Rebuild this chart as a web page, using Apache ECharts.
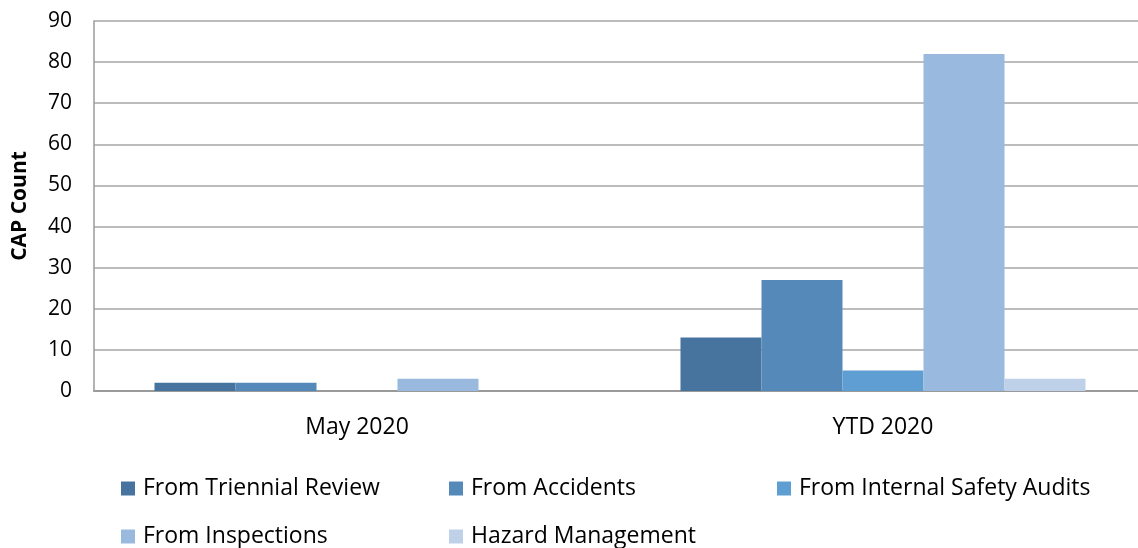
<!DOCTYPE html>
<html>
<head>
<meta charset="utf-8">
<script src="https://cdn.jsdelivr.net/npm/echarts@6/dist/echarts.min.js"></script>
<style>
  html, body { margin: 0; padding: 0; background: #fff; }
  #chart { width: 1138px; height: 548px; }
</style>
</head>
<body>
<div id="chart"></div>
<script>
// 数据
var categories = ['May 2020', 'YTD 2020'];
var seriesNames = ['From Triennial Review', 'From Accidents', 'From Internal Safety Audits', 'From Inspections', 'Hazard Management'];
var triennialReview = [2, 13];
var accidents = [2, 27];
var internalAudits = [0, 5];
var inspections = [3, 82];
var hazardMgmt = [0, 3];
var yTicks = [0, 10, 20, 30, 40, 50, 60, 70, 80, 90];

// 颜色
var colors = ['#46749F', '#5589BA', '#5F9ED3', '#99BADE', '#BFD1E8'];

var seriesValues = [triennialReview, accidents, internalAudits, inspections, hazardMgmt];
var font = 'Open Sans';

var myChart = echarts.init(document.getElementById('chart'));

// 图例位置 (两行)
var legendPos = [
    { left: 116, top: 472 },
    { left: 444, top: 472 },
    { left: 772, top: 472 },
    { left: 116, top: 520 },
    { left: 444, top: 520 }
];

var legends = [];
var series = [];
for (let i = 0; i < seriesNames.length; i++) {
    legends.push({
        left: legendPos[i].left,
        top: legendPos[i].top,
        data: [seriesNames[i]],
        icon: 'rect',
        itemWidth: 14,
        itemHeight: 14,
        itemGap: 8,
        textStyle: { fontFamily: font, fontSize: 23, color: '#000', padding: [0, 0, 0, 3] },
        selectedMode: false
    });
    series.push({
        name: seriesNames[i],
        type: 'bar',
        data: seriesValues[i],
        barGap: '0%',
        barCategoryGap: '23%',
        itemStyle: { color: colors[i] },
        emphasis: { disabled: true }
    });
}

var option = {
    animation: false,
    backgroundColor: '#fff',
    // 右边超出画布一点
    grid: { left: 94, width: 1052, top: 21, bottom: 157, outerBoundsMode: 'none' },
    legend: legends,
    xAxis: {
        type: 'category',
        data: categories,
        axisLine: { lineStyle: { color: '#9a9a9a', width: 2 } },
        axisTick: { show: false },
        axisLabel: { fontFamily: font, fontSize: 23, color: '#000', margin: 25 }
    },
    yAxis: {
        type: 'value',
        min: yTicks[0],
        max: yTicks[yTicks.length - 1],
        interval: 10,
        name: 'CAP Count',
        nameLocation: 'middle',
        nameGap: 63,
        nameTextStyle: { fontFamily: font, fontSize: 21, fontWeight: 'bold', color: '#000' },
        axisLine: { show: true, lineStyle: { color: '#9a9a9a', width: 1.5 } },
        axisTick: { show: false },
        axisLabel: { fontFamily: font, fontSize: 21, color: '#000', margin: 22 },
        splitLine: { lineStyle: { color: '#a6a6a6', width: 1.5 } }
    },
    series: series
};
myChart.setOption(option);
</script>
</body>
</html>
